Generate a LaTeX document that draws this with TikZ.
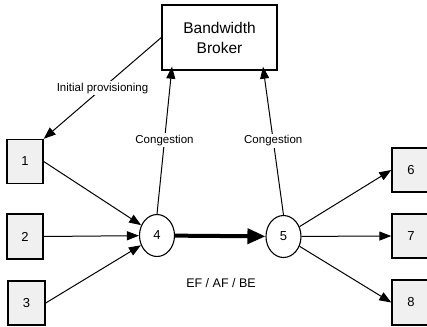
\documentclass[tikz,border=0pt]{standalone}
\usepackage{fontspec}
\setmainfont{Liberation Sans}
\usetikzlibrary{arrows.meta,shapes.geometric}
\begin{document}
\begin{tikzpicture}[x=1pt,y=-1pt,
  hostbox/.style={draw,line width=1.4pt,fill=black!6,minimum width=36pt,minimum height=44pt,inner sep=0pt,font=\fontsize{13}{15}\selectfont},
  router/.style={draw,ellipse,line width=1.1pt,minimum width=35pt,minimum height=42pt,inner sep=0pt,font=\fontsize{13}{15}\selectfont},
  conn/.style={line width=1pt,-{Triangle[length=12pt,width=9pt]}},
  lbl/.style={fill=white,inner sep=1.5pt,font=\fontsize{11.5}{13}\selectfont}]
\useasboundingbox (0,0) rectangle (427,326);
\node[draw,line width=1.4pt,minimum width=115pt,minimum height=65pt,align=center,font=\fontsize{15.5}{20}\selectfont] (broker) at (219.5,37.5) {Bandwidth\\Broker};
\node[hostbox] (b1) at (25,161.5) {1};
\node[hostbox,minimum height=45pt] (b2) at (25,236.5) {2};
\node[hostbox,minimum width=37pt] (b3) at (26.5,303) {3};
\node[hostbox,minimum width=38pt] (b6) at (411,170) {6};
\node[hostbox,minimum width=38pt] (b7) at (411,236) {7};
\node[hostbox,minimum width=38pt,minimum height=45pt] (b8) at (411,302.5) {8};
\node[router] (r4) at (157,235.5) {4};
\node[router] (r5) at (283.5,236.5) {5};
\draw[conn] (broker.west) -- node[lbl]{Initial provisioning} (b1.north east);
\draw[conn] (r4.north) -- node[lbl,pos=0.5]{Congestion} ([xshift=-47.5pt,yshift=4pt]broker.south);
\draw[conn] (r5.north) -- node[lbl,pos=0.5]{Congestion} ([xshift=43.5pt,yshift=4pt]broker.south);
\draw[conn] (b1.east) -- (r4);
\draw[conn] (b2.east) -- (r4);
\draw[conn] (b3.east) -- (r4);
\draw[line width=4pt,-{Triangle[length=18pt,width=15pt]}] (r4) -- (r5);
\draw[conn] (r5) -- (b6.west);
\draw[conn] (r5) -- (b7.west);
\draw[conn] (r5) -- (b8.west);
\node[font=\fontsize{12.5}{14}\selectfont] (lab) at (221,283) {EF / AF / BE};
\end{tikzpicture}
\end{document}
